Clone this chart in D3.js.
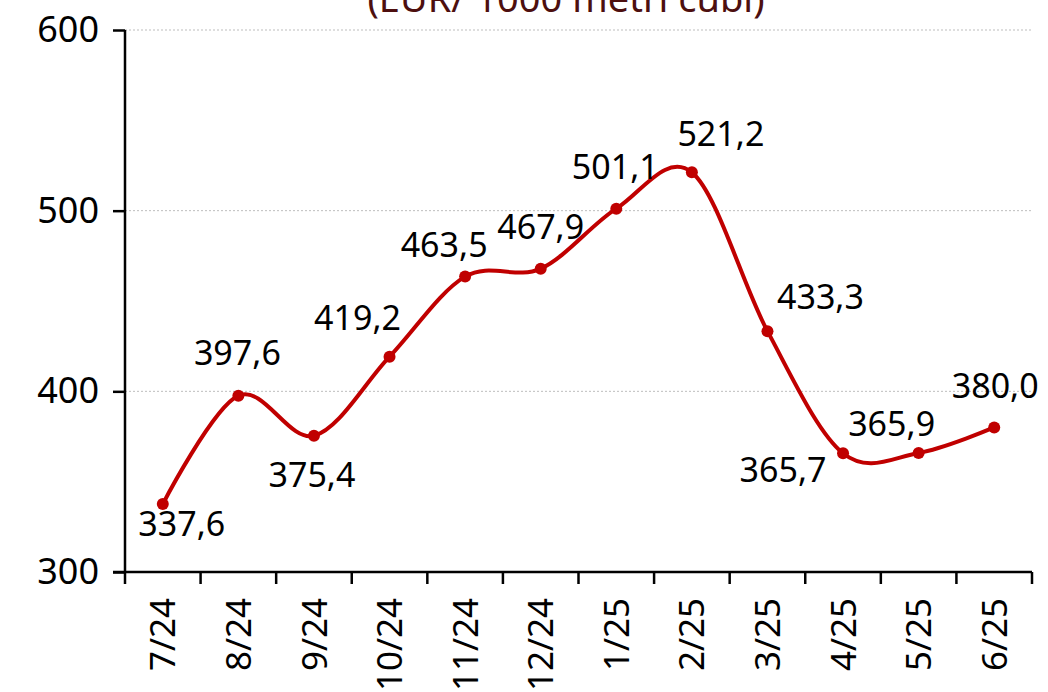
<!DOCTYPE html>
<html>
<head>
<meta charset="utf-8">
<script src="https://cdn.jsdelivr.net/npm/d3@7"></script>
<style>
  body { margin: 0; background: #fff; }
  svg { display: block; font-family: "Noto Sans", sans-serif; }
</style>
</head>
<body>
<div id="chart"></div>
<script>
// data
var months = ["7/24", "8/24", "9/24", "10/24", "11/24", "12/24", "1/25", "2/25", "3/25", "4/25", "5/25", "6/25"];
var prices = [337.6, 397.6, 375.4, 419.2, 463.5, 467.9, 501.1, 521.2, 433.3, 365.7, 365.9, 380.0];
var yTicks = [300, 400, 500, 600];
var titleText = "(EUR/ 1000 metri cubi)";

// label offsets relative to each point (dx, dy of text centre)
var labelOffsets = [
  [19, 20], [-1, -43], [-2, 39], [-32, -39], [-21, -32], [0, -42],
  [-1, -42], [29, -39], [53, -34], [-60, 16], [-27, -29], [1, -42]
];

var W = 1048, H = 692;
var margin = { top: 30, right: 16, bottom: 120, left: 125 };
var width = W - margin.left - margin.right,
  height = H - margin.top - margin.bottom;

var svg = d3.select("#chart").append("svg")
  .attr("width", W)
  .attr("height", H);

// title, cut off at the top
svg.append("text")
  .attr("x", 566)
  .attr("y", 12)
  .attr("text-anchor", "middle")
  .style("font-size", "38px")
  .style("fill", "#4d0f0f")
  .text(titleText);

var g = svg.append("g")
  .attr("transform", "translate(" + margin.left + "," + margin.top + ")");

var x = d3.scaleBand().domain(months).range([0, width]);
var y = d3.scaleLinear().domain([300, 600]).range([height, 0]);

// gridlines
g.selectAll(".grid")
  .data(yTicks.filter(function (d) { return d > 300; }))
  .enter()
  .append("line")
  .attr("x1", 0)
  .attr("x2", width)
  .attr("y1", function (d) { return y(d); })
  .attr("y2", function (d) { return y(d); })
  .attr("stroke", "#bdbdbd")
  .attr("stroke-width", 1)
  .style("stroke-dasharray", "2,2");

// y axis
var yAxis = g.append("g")
  .call(d3.axisLeft(y).tickValues(yTicks).tickSize(12).tickPadding(14).tickFormat(d3.format("d")));
yAxis.select(".domain").attr("stroke", "#000").attr("stroke-width", 2.5).attr("d", "M0,0V" + height);
yAxis.selectAll(".tick line").attr("stroke", "#000").attr("stroke-width", 2.5);
yAxis.selectAll(".tick text")
  .style("font-size", "36px")
  .style("font-family", "Noto Sans")
  .attr("fill", "#000");

// x axis with ticks at category boundaries
var xg = g.append("g").attr("transform", "translate(0," + height + ")");
xg.append("line")
  .attr("x1", -12).attr("x2", width)
  .attr("stroke", "#000").attr("stroke-width", 2.5);
xg.selectAll(".xtick")
  .data(months.concat(["end"]))
  .enter()
  .append("line")
  .attr("x1", function (d, i) { return i * x.step(); })
  .attr("x2", function (d, i) { return i * x.step(); })
  .attr("y1", 0)
  .attr("y2", 12)
  .attr("stroke", "#000")
  .attr("stroke-width", 2.5);
xg.selectAll(".xlabel")
  .data(months)
  .enter()
  .append("text")
  .attr("transform", function (d) {
    return "translate(" + (x(d) + x.bandwidth() / 2) + ",26) rotate(-90)";
  })
  .attr("text-anchor", "end")
  .attr("dy", "0.36em")
  .style("font-size", "35px")
  .attr("fill", "#000")
  .text(function (d) { return d; });

// line
var points = months.map(function (m, i) {
  return { month: m, value: prices[i], off: labelOffsets[i] };
});

var line = d3.line()
  .x(function (d) { return x(d.month) + x.bandwidth() / 2; })
  .y(function (d) { return y(d.value); })
  .curve(d3.curveCardinal.tension(0));

g.append("path")
  .datum(points)
  .attr("fill", "none")
  .attr("stroke", "#c00000")
  .attr("stroke-width", 4)
  .attr("d", line);

g.selectAll(".dot")
  .data(points)
  .enter()
  .append("circle")
  .attr("cx", function (d) { return x(d.month) + x.bandwidth() / 2; })
  .attr("cy", function (d) { return y(d.value); })
  .attr("r", 6)
  .attr("fill", "#c00000");

g.selectAll(".label")
  .data(points)
  .enter()
  .append("text")
  .attr("x", function (d) { return x(d.month) + x.bandwidth() / 2 + d.off[0]; })
  .attr("y", function (d) { return y(d.value) + d.off[1]; })
  .attr("text-anchor", "middle")
  .attr("dy", "0.36em")
  .style("font-size", "34px")
  .attr("fill", "#000")
  .text(function (d) { return d.value.toFixed(1).replace(".", ","); });
</script>
</body>
</html>
